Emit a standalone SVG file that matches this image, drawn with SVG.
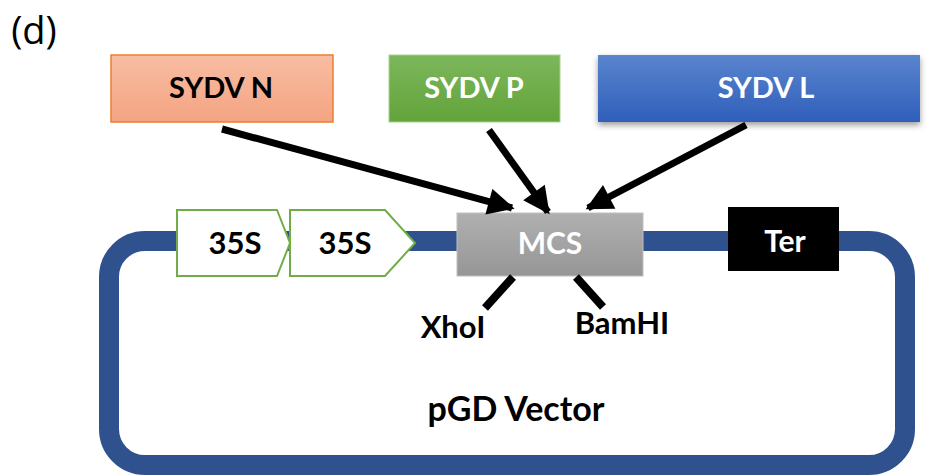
<svg xmlns="http://www.w3.org/2000/svg" width="932" height="476" viewBox="0 0 932 476">
<defs>
<linearGradient id="gN" x1="0" y1="0" x2="0" y2="1"><stop offset="0" stop-color="#F8BDA3"/><stop offset="1" stop-color="#F4A482"/></linearGradient>
<linearGradient id="gP" x1="0" y1="0" x2="0" y2="1"><stop offset="0" stop-color="#7DB75C"/><stop offset="1" stop-color="#62A33A"/></linearGradient>
<linearGradient id="gL" x1="0" y1="0" x2="0" y2="1"><stop offset="0" stop-color="#5A84CE"/><stop offset="1" stop-color="#2F5FBA"/></linearGradient>
<linearGradient id="gM" x1="0" y1="0" x2="0" y2="1"><stop offset="0" stop-color="#B0B0B0"/><stop offset="1" stop-color="#969696"/></linearGradient>
<filter id="sh" x="-10%" y="-20%" width="130%" height="150%"><feDropShadow dx="0" dy="3" stdDeviation="3" flood-color="#000" flood-opacity="0.4"/></filter>
<marker id="ah" viewBox="0 0 10 10" refX="9" refY="5" markerWidth="4" markerHeight="3.8" orient="auto" markerUnits="strokeWidth"><path d="M0,0 L10,5 L0,10 Z" fill="#000"/></marker>
</defs>
<style>
text{font-family:Lato,"Open Sans","Liberation Sans",sans-serif;font-weight:bold;text-anchor:middle}
.w{fill:#fff}
.k{fill:#000}
.conn line{stroke:#000;stroke-width:7}
.site{stroke:#000;stroke-width:8}
.prom{fill:#fff;stroke:#70AD47;stroke-width:2}
</style>
<rect width="932" height="476" fill="#fff"/>
<text x="34" y="44" style="font-weight:normal;font-size:38px;font-family:'Open Sans','Liberation Sans',sans-serif" class="k">(d)</text>
<g id="vector">
<rect x="109" y="241" width="796" height="224" rx="36" ry="36" fill="none" stroke="#2F528F" stroke-width="20"/>
<text x="516" y="421" font-size="34" class="k">pGD Vector</text>
</g>
<g id="p35S-1">
<path class="prom" d="M177,210 H277 L290,243 L277,276 H177 Z"/>
<text x="235" y="254" font-size="31" class="k">35S</text>
</g>
<g id="p35S-2">
<path class="prom" d="M290,210 H385 L415,243 L385,276 H290 Z"/>
<text x="345" y="254" font-size="31" class="k">35S</text>
</g>
<g id="mcs">
<rect x="457" y="213" width="186" height="63" fill="url(#gM)" stroke="#BFBFBF" stroke-width="1"/>
<text x="550" y="254" font-size="30" class="w">MCS</text>
</g>
<g id="ter">
<rect x="728" y="207" width="111" height="64" fill="#000"/>
<text x="785" y="252" font-size="30" class="w">Ter</text>
</g>
<g id="sydvN">
<rect x="111" y="55" width="222" height="67" fill="url(#gN)" stroke="#ED7D31" stroke-width="1.5"/>
<text x="221" y="98" font-size="29" class="k">SYDV N</text>
</g>
<g id="sydvP">
<rect x="389" y="55" width="171" height="67" fill="url(#gP)" stroke="#A9D18E" stroke-width="1"/>
<text x="474" y="98" font-size="29" class="w">SYDV P</text>
</g>
<g id="sydvL">
<rect x="598" y="55" width="322" height="67" fill="url(#gL)" filter="url(#sh)"/>
<text x="766" y="98" font-size="29" class="w">SYDV L</text>
</g>
<g id="xhoI">
<line class="site" x1="513" y1="277" x2="485" y2="308"/>
<text x="453" y="338" font-size="31" class="k">XhoI</text>
</g>
<g id="bamHI">
<line class="site" x1="576" y1="277" x2="603" y2="307"/>
<text x="622" y="334" font-size="31" class="k">BamHI</text>
</g>
<g id="connectors" class="conn">
<line x1="222" y1="129" x2="512" y2="208" marker-end="url(#ah)"/>
<line x1="489" y1="130" x2="548" y2="212" marker-end="url(#ah)"/>
<line x1="746" y1="125" x2="588" y2="208" marker-end="url(#ah)"/>
</g>
</svg>
